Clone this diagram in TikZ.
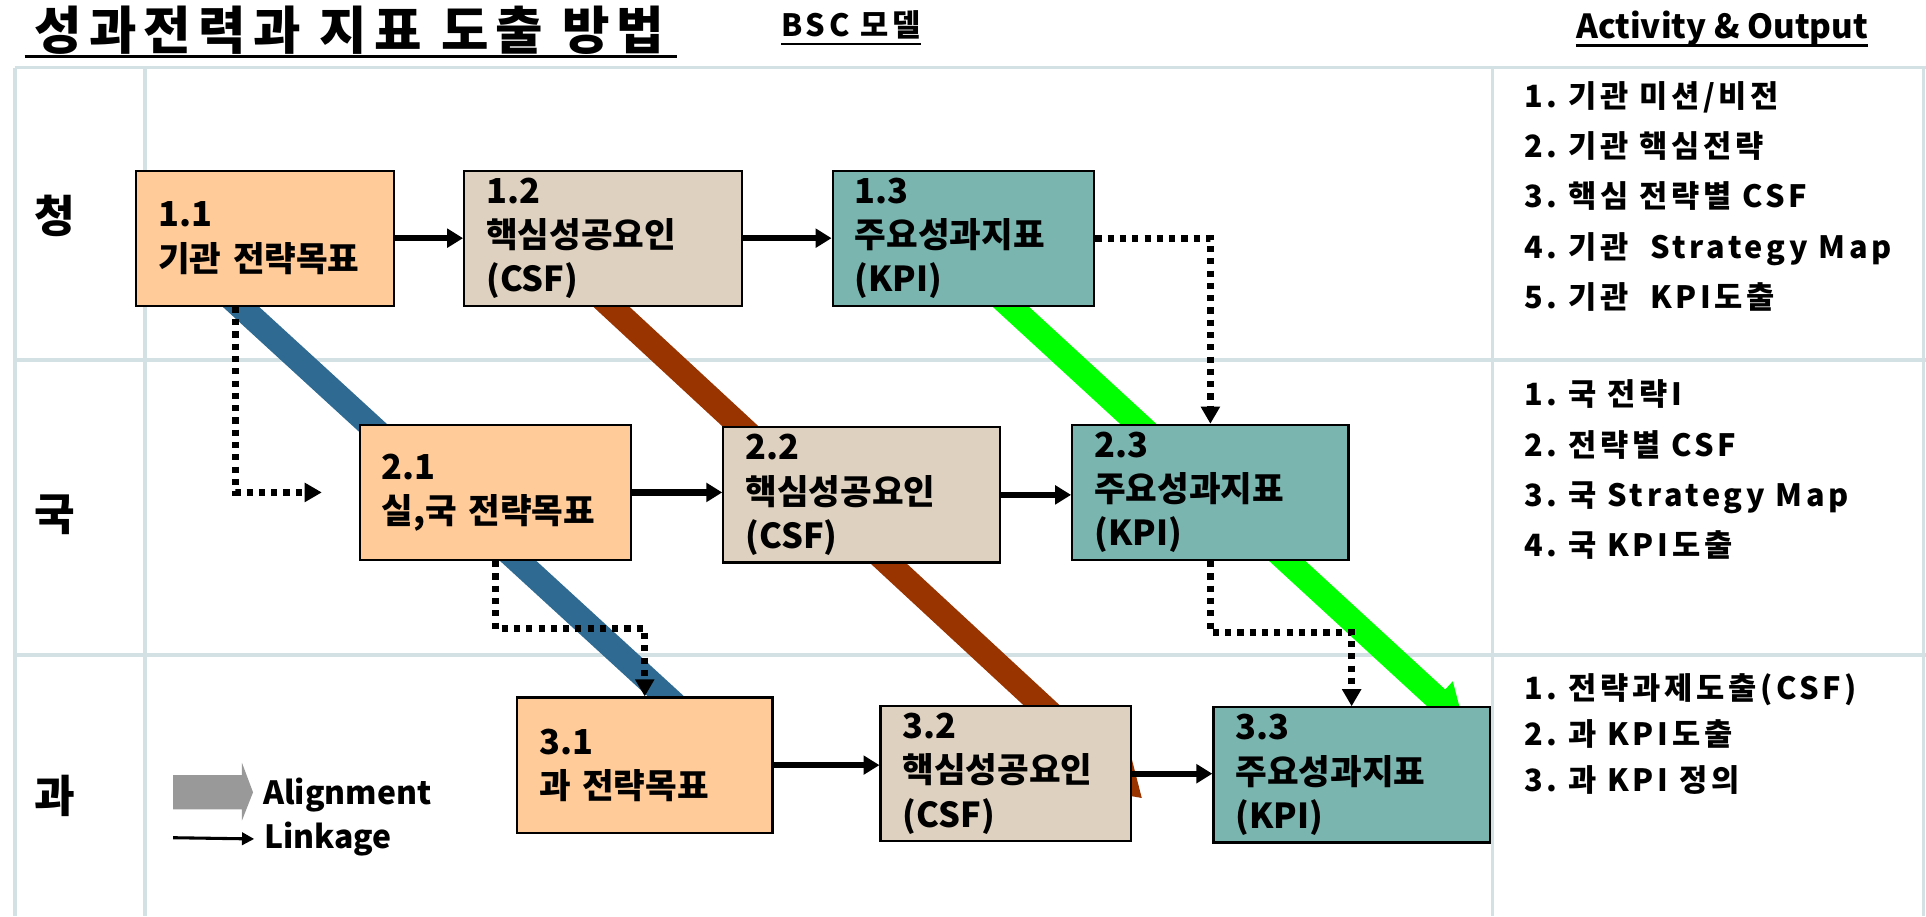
\documentclass[tikz,border=0pt]{standalone}
\usepackage{fontspec}
\setmainfont{Noto Sans CJK KR}
\newfontfamily\actfont{Noto Sans CJK KR}[LetterSpace=12]
\newfontfamily\titlefont{Noto Sans CJK KR}[LetterSpace=14]
\usetikzlibrary{arrows.meta,positioning,backgrounds}

\definecolor{gridblue}{HTML}{D3E1E5}
\definecolor{goalpeach}{HTML}{FFCC99}
\definecolor{csftan}{HTML}{DED1BF}
\definecolor{kpiteal}{HTML}{7AB5B0}
\definecolor{barblue}{HTML}{2E6A92}
\definecolor{barbrown}{HTML}{993300}
\definecolor{bargreen}{HTML}{00FF00}
\definecolor{keygray}{HTML}{999999}

\begin{document}
\begin{tikzpicture}[x=1pt, y=-1pt,
    stepbox/.style={draw, line width=1.8pt, anchor=north west, align=left,
        inner xsep=18pt, inner ysep=0pt, minimum height=110pt,
        font=\bfseries\fontsize{28}{36}\selectfont},
    goal/.style={stepbox, fill=goalpeach},
    csf/.style={stepbox, fill=csftan},
    kpi/.style={stepbox, fill=kpiteal},
    rowlabel/.style={font=\bfseries\fontsize{36}{40}\selectfont},
    actlist/.style={anchor=north west, align=left, inner sep=0pt,
        font=\actfont\bfseries\fontsize{25}{41}\selectfont},
    heading/.style={inner sep=0pt, anchor=base west,
        font=\bfseries\fontsize{27}{30}\selectfont},
    legendtext/.style={inner sep=0pt, anchor=west,
        font=\bfseries\fontsize{26}{28}\selectfont},
    gridline/.style={gridblue, line width=3pt},
    link/.style={line width=5pt, -{Triangle[width=15pt,length=13pt]}},
    dotlink/.style={line width=5.5pt, dash pattern=on 5pt off 5pt,
        -{Triangle[width=15pt,length=14pt]}},
    alignbar/.style={line width=20pt, -{Triangle[width=36pt,length=30pt]}}
]
\useasboundingbox (0,0) rectangle (1568,746);

% headings
\node[inner sep=0pt, anchor=base west,
      font=\titlefont\bfseries\fontsize{42}{44}\selectfont] (title) at (28,40) {성과전력과 지표 도출 방법};
\draw[line width=2.5pt] ([xshift=-8pt,yshift=-6pt]title.base west) -- ([xshift=10pt,yshift=-6pt]title.base east);
\node[heading, font=\actfont\bfseries\fontsize{25}{28}\selectfont] (bsc) at (636,30) {BSC 모델};
\draw[line width=1.8pt] ([yshift=-6pt]bsc.base west) -- ([yshift=-6pt]bsc.base east);
\node[heading] (activity) at (1283,31) {Activity \& Output};
\draw[line width=1.8pt] ([yshift=-6pt]activity.base west) -- ([yshift=-6pt]activity.base east);

% row labels
\node[rowlabel] (rowA) at (45,176) {청};
\node[rowlabel] (rowB) at (45,419) {국};
\node[rowlabel] (rowC) at (45,648) {과};

% boxes
\node[goal, text width=174pt] (n11) at (110,138) {1.1\\기관~전략목표};
\node[csf, text width=190pt] (n12) at (377,138) {1.2\\핵심성공요인\\(CSF)};
\node[kpi, text width=177pt] (n13) at (677,138) {1.3\\주요성과지표\\(KPI)};

\node[goal, text width=185pt] (n21) at (292,345) {2.1\\실,국~전략목표};
\node[csf, text width=189pt] (n22) at (588,347) {2.2\\핵심성공요인\\(CSF)};
\node[kpi, text width=189pt] (n23) at (872,345) {2.3\\주요성과지표\\(KPI)};

\node[goal, text width=172pt] (n31) at (420,567) {3.1\\과~전략목표};
\node[csf, text width=168pt] (n32) at (716,574) {3.2\\핵심성공요인\\(CSF)};
\node[kpi, text width=189pt] (n33) at (987,575) {3.3\\주요성과지표\\(KPI)};

% activity & output
\node[actlist] (actA) at (1241,66) {1.~기관~미션/비전\\2.~기관~핵심전략\\3.~핵심~전략별~CSF\\4.~기관~~Strategy~Map\\5.~기관~~KPI도출};
\node[actlist] (actB) at (1241,309) {1.~국~전략I\\2.~전략별~CSF\\3.~국~Strategy~Map\\4.~국~KPI도출};
\node[actlist, font=\actfont\bfseries\fontsize{25}{37.5}\selectfont] (actC) at (1241,548) {1.~전략과제도출(CSF)\\2.~과~KPI도출\\3.~과~KPI~정의};

% linkage
\draw[link] (n11.east) -- (n12.west);
\draw[link] (n12.east) -- (n13.west);
\draw[link] (n21.east) -- (n21.east -| n22.west);
\draw[link] (n22.east) -- (n22.east -| n23.west);
\draw[link] (n31.east) -- (n31.east -| n32.west);
\draw[link] (n32.east) -- (n32.east -| n33.west);

\draw[dotlink, shorten >=30pt] ([xshift=-24pt]n11.south) |- (n21.west);
\draw[dotlink] (n13.east) -| (n23.north);
\draw[dotlink] (n21.south) -- ++(0,55) -| (n31.north);
\draw[dotlink] (n23.south) -- ++(0,58) -| (n33.north);

% legend
\fill[keygray] (141,631) -- (197,631) -- (197,621) -- (206,645) -- (197,668) -- (197,659) -- (141,659) -- cycle;
\node[legendtext] (altext) at (214,647) {Alignment};
\coordinate (lkstart) at (141,682);
\node[legendtext] (lktext) at (215,683) {Linkage};
\draw[line width=2.5pt, -{Triangle[width=10pt,length=10pt]}] (lkstart) -- ([xshift=-8pt]lktext.west);

\begin{pgfonlayer}{background}
  \foreach \gy in {55,293,533}
    \draw[gridline] (12,\gy) -- (1568,\gy);
  \foreach \gx in {12,118,1215,1566}
    \draw[gridline] (\gx,55) -- (\gx,746);
  % alignment
  \draw[alignbar, barblue] ([xshift=-34.6pt,yshift=13.6pt]n11.south) -- ([xshift=61pt,yshift=-40pt]n31.north);
  \draw[alignbar, barbrown] ([xshift=-7.7pt,yshift=13.5pt]n12.south) -- ([xshift=8pt,yshift=-20pt]n32.east);
  \draw[alignbar, bargreen] ([xshift=23.8pt,yshift=13.6pt]n13.south) -- ([xshift=91.5pt,yshift=-14pt]n33.north);
\end{pgfonlayer}
\end{tikzpicture}
\end{document}
